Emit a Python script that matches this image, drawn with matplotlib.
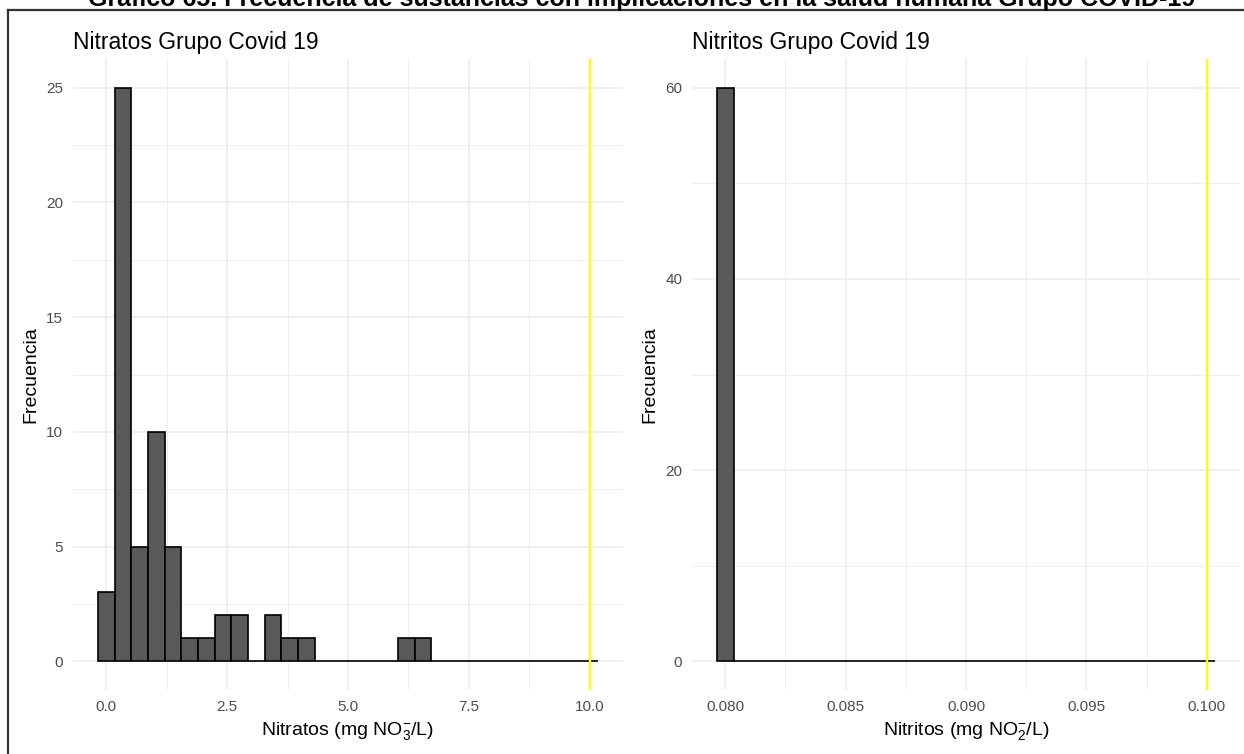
import numpy as np
import matplotlib
matplotlib.use("Agg")
import matplotlib.pyplot as plt
from matplotlib.lines import Line2D

plt.rcParams['font.family'] = ['Liberation Sans', 'DejaVu Sans']
plt.rcParams['mathtext.default'] = 'regular'

# histogram counts (30 bins each, ggplot default)
nitratos_range = (0.0, 10.0)
nitratos_counts = [3, 25, 5, 10, 5, 1, 1, 2, 2, 0, 2, 1, 1, 0, 0,
                   0, 0, 0, 1, 1, 0, 0, 0, 0, 0, 0, 0, 0, 0, 0]
nitratos_limit = 10.0
nitratos_xticks = [0.0, 2.5, 5.0, 7.5, 10.0]
nitratos_yticks = [0, 5, 10, 15, 20, 25]

nitritos_range = (0.080, 0.100)
nitritos_counts = [60] + [0] * 29
nitritos_limit = 0.100
nitritos_xticks = [0.080, 0.085, 0.090, 0.095, 0.100]
nitritos_yticks = [0, 20, 40, 60]

suptitle = "Gráfico 65. Frecuencia de sustancias con implicaciones en la salud humana Grupo COVID-19"

W, H = 1244, 754
fig = plt.figure(figsize=(W / 100, H / 100), dpi=100)
fig.patch.set_facecolor('white')


def px_axes(x0, y0, x1, y1):
    return fig.add_axes([x0 / W, 1 - y1 / H, (x1 - x0) / W, (y1 - y0) / H])


def hist_panel(ax, rng, counts, limit, xticks, yticks, title, xlabel, xfmt):
    n = len(counts)
    centers = np.linspace(rng[0], rng[1], n)
    width = (rng[1] - rng[0]) / (n - 1)
    ax.bar(centers, counts, width=width, color='#595959', edgecolor='black',
           linewidth=1.2, zorder=3)
    lo, hi = rng[0] - width / 2, rng[1] + width / 2
    pad = (hi - lo) * 0.05
    ax.set_xlim(lo - pad, hi + pad)
    ymax = max(counts)
    ax.set_ylim(-ymax * 0.05, ymax * 1.05)
    ax.axvline(limit, color='#FFFF00', linewidth=1.6, zorder=4)

    ax.set_xticks(xticks)
    ax.set_xticklabels([xfmt.format(v) for v in xticks])
    ax.set_yticks(yticks)
    ax.set_xticks([(a + b) / 2 for a, b in zip(xticks[:-1], xticks[1:])], minor=True)
    ax.set_yticks([(a + b) / 2 for a, b in zip(yticks[:-1], yticks[1:])], minor=True)
    ax.grid(which='major', color='#EBEBEB', linewidth=1.1, zorder=0)
    ax.grid(which='minor', color='#EBEBEB', linewidth=0.6, zorder=0)
    ax.tick_params(which='both', length=0, labelsize=11, labelcolor='#4D4D4D', pad=7)
    for s in ax.spines.values():
        s.set_visible(False)
    ax.set_axisbelow(True)

    ax.set_title(title, loc='left', fontsize=16.5, pad=7)
    ax.set_xlabel(xlabel, fontsize=14)
    ax.set_ylabel('Frecuencia', fontsize=14)
    ax.xaxis.set_label_coords(0.5, -0.047)
    ax.yaxis.set_label_coords(-0.061, 0.5)


ax1 = px_axes(73, 59, 623, 690)
hist_panel(ax1, nitratos_range, nitratos_counts, nitratos_limit,
           nitratos_xticks, nitratos_yticks, 'Nitratos Grupo Covid 19',
           r'Nitratos (mg NO$_3^{-}$/L)', '{:.1f}')

ax2 = px_axes(692, 59, 1240, 690)
hist_panel(ax2, nitritos_range, nitritos_counts, nitritos_limit,
           nitritos_xticks, nitritos_yticks, 'Nitritos Grupo Covid 19',
           r'Nitritos (mg NO$_2^{-}$/L)', '{:.3f}')

# frame of the screenshot box and the cut-off caption above it
fig.add_artist(Line2D([8 / W, 8 / W], [0, 1 - 10 / H], color='#333333', linewidth=1.6))
fig.add_artist(Line2D([8 / W, 1], [1 - 10 / H, 1 - 10 / H], color='#333333', linewidth=1.6))
fig.text(642 / W, 1 - 6 / H, suptitle, ha='center', va='baseline',
         fontsize=18, fontweight='bold')

fig.savefig('out.png', dpi=100)
